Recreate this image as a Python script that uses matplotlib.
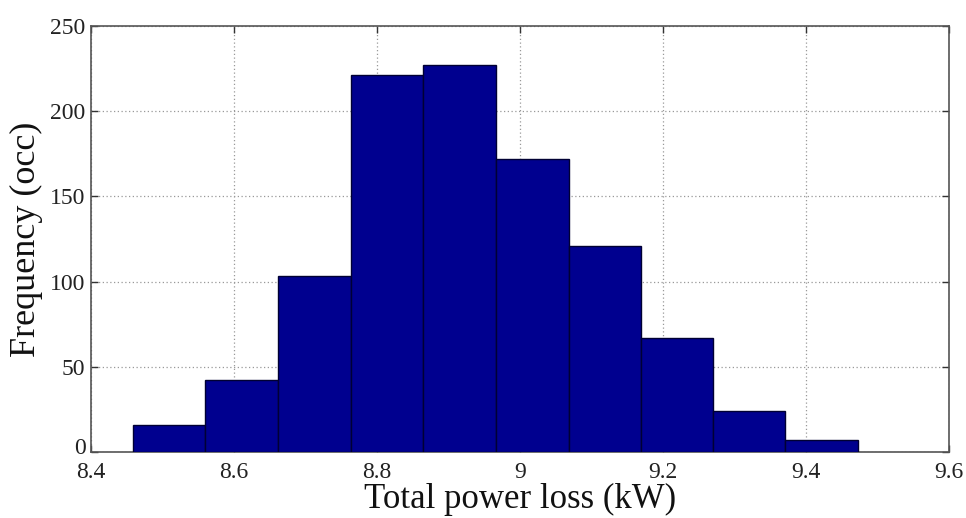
import matplotlib
matplotlib.use("Agg")
import matplotlib.pyplot as plt
import matplotlib.transforms as mtransforms
import numpy as np

# Histogram of total power loss over the simulated cases
bin_edges = [8.459, 8.560, 8.662, 8.764, 8.865, 8.966, 9.068, 9.169, 9.270, 9.371, 9.473]
counts = [16, 42, 103, 221, 227, 172, 121, 67, 24, 7]

x_ticks = [8.4, 8.6, 8.8, 9.0, 9.2, 9.4, 9.6]
x_tick_labels = ["8.4", "8.6", "8.8", "9", "9.2", "9.4", "9.6"]
y_ticks = [0, 50, 100, 150, 200, 250]

plt.rcParams["font.family"] = ["Liberation Serif", "DejaVu Serif"]

fig = plt.figure(figsize=(9.66, 5.18), dpi=100)
ax = fig.add_axes([0.0942, 0.1274, 0.8882, 0.8224])

edges = np.asarray(bin_edges)
ax.bar(edges[:-1], counts, width=np.diff(edges), align="edge",
       color="#00008f", edgecolor="#000033", linewidth=1.0, zorder=3)

ax.set_xlim(8.4, 9.6)
ax.set_ylim(0, 250)
ax.set_xticks(x_ticks)
ax.set_xticklabels(x_tick_labels)
ax.set_yticks(y_ticks)

ax.grid(True, linestyle=(0, (1, 2)), color="#999999", linewidth=0.9, zorder=0)
ax.set_axisbelow(True)

ax.tick_params(direction="in", top=True, right=True, length=5, width=1.0,
               labelsize=17, colors="#333333", labelcolor="#222222")
ax.tick_params(axis="x", pad=7)
ax.tick_params(axis="y", pad=4)
for side in ax.spines.values():
    side.set_color("#555555")
    side.set_linewidth(1.2)

# lift the "0" label slightly so it clears the first x tick label
zero_label = ax.get_yticklabels()[0]
lift = mtransforms.ScaledTranslation(0, 4 / 72, fig.dpi_scale_trans)
zero_label.set_transform(zero_label.get_transform() + lift)

ax.set_xlabel("Total power loss (kW)", fontsize=25, color="#111111", labelpad=0)
ax.set_ylabel("Frequency (occ)", fontsize=26, color="#111111", labelpad=5)

fig.savefig("out.png", dpi=100)
